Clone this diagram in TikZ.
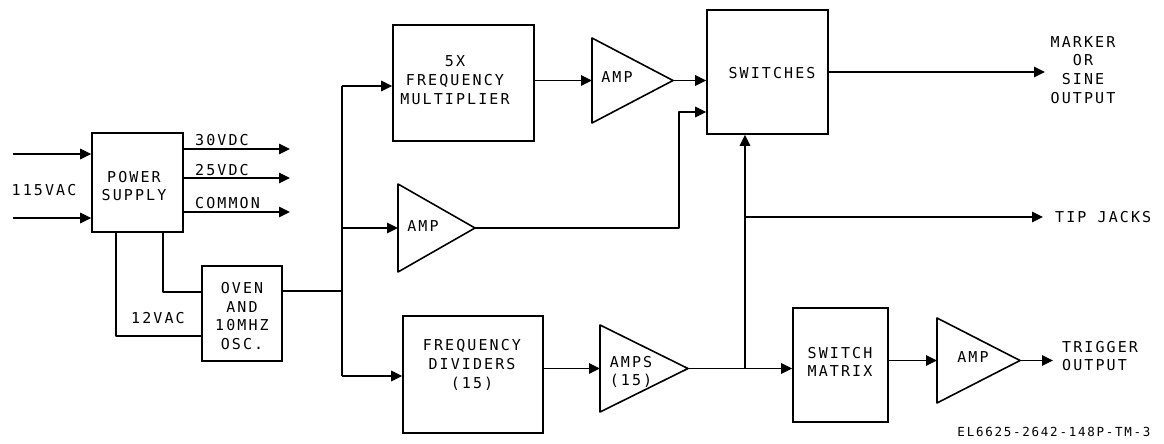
\documentclass[tikz,border=0pt]{standalone}
\usepackage{fontspec}
\newfontfamily\lr[LetterSpace=14]{DejaVu Sans Mono}
\usetikzlibrary{arrows.meta}
\begin{document}
\begin{tikzpicture}[x=1pt,y=-1pt,
  ln/.style={line width=1.6pt, line join=round},
  arr/.style={ln,-{Triangle[length=11pt,width=10.5pt]}},
  box/.style={draw,line width=1.6pt,inner sep=0pt},
  txt/.style={inner sep=0pt,align=center,font=\lr\fontsize{15}{18.8}\selectfont},
  small/.style={inner sep=0pt,font=\lr\fontsize{12.5}{15}\selectfont}]
\useasboundingbox (0,0) rectangle (1164,444);

% ---- boxes ----
\node[box,minimum width=91pt,minimum height=99pt] (ps) at (137.5,182.5) {};
\node[txt] (psT) at (134,186) {POWER\\SUPPLY};
\node[box,minimum width=80pt,minimum height=95pt] (oven) at (242,313.5) {};
\node[txt] (ovenT) at (242,316) {OVEN\\AND\\10MHZ\\OSC.};
\node[box,minimum width=141pt,minimum height=116pt] (mult) at (463.5,83) {};
\node[txt] (multT) at (455,80) {5X\\FREQUENCY\\MULTIPLIER};
\node[box,minimum width=121pt,minimum height=124pt] (sw) at (767.5,72) {};
\node[txt] (swT) at (772,73) {SWITCHES};
\node[box,minimum width=140pt,minimum height=117pt] (div) at (473,374.5) {};
\node[txt] (divT) at (472,365) {FREQUENCY\\DIVIDERS\\(15)};
\node[box,minimum width=95pt,minimum height=114pt] (sm) at (840.5,365) {};
\node[txt] (smT) at (840,362) {SWITCH\\MATRIX};

% ---- amplifiers ----
\coordinate (a1w) at (592,80.5); \coordinate (a1e) at (673,80.5);
\draw[ln] (592,38) -- (a1e) -- (592,123) -- cycle;
\node[txt] (a1T) at (617,77) {AMP};
\coordinate (a2w) at (398,228); \coordinate (a2e) at (475,228);
\draw[ln] (398,184) -- (a2e) -- (398,272) -- cycle;
\node[txt] (a2T) at (423,226) {AMP};
\coordinate (a3w) at (600,368.5); \coordinate (a3e) at (688,368.5);
\draw[ln] (600,325) -- (a3e) -- (600,412) -- cycle;
\node[txt] (a3T) at (631,372) {AMPS\\(15)};
\coordinate (a4w) at (937,360.5); \coordinate (a4e) at (1020,360.5);
\draw[ln] (937,318) -- (a4e) -- (937,403) -- cycle;
\node[txt] (a4T) at (973,357) {AMP};

% ---- power supply ----
\coordinate (in1) at (13,154); \coordinate (in2) at (13,218);
\draw[arr] (in1) -- (in1 -| ps.west);
\draw[arr] (in2) -- (in2 -| ps.west);
\node[txt] (vac) at (44,190) {115VAC};
\coordinate (o30) at (290,149); \coordinate (o25) at (290,178); \coordinate (ocom) at (290,212);
\draw[arr] (o30 -| ps.east) -- (o30);
\draw[arr] (o25 -| ps.east) -- (o25);
\draw[arr] (ocom -| ps.east) -- (ocom);
\node[txt,anchor=west] (l30) at (195,140.5) {30VDC};
\node[txt,anchor=west] (l25) at (195,170) {25VDC};
\node[txt,anchor=west] (lcom) at (195,203.5) {COMMON};
\coordinate (p1) at (163,292); \coordinate (p2) at (116,336);
\draw[ln] (p1 |- ps.south) -- (p1) -- (p1 -| oven.west);
\draw[ln] (p2 |- ps.south) -- (p2) -- (p2 -| oven.west);
\node[txt] (v12) at (158,318) {12VAC};

% ---- distribution bus ----
\coordinate (bo) at (342,291); \coordinate (bt) at (342,86); \coordinate (bb) at (342,376);
\draw[ln] (bo -| oven.east) -- (bo);
\draw[ln] (bt) -- (bb);
\draw[arr] (bt) -- (bt -| mult.west);
\draw[arr] (a2w -| bt) -- (a2w);
\draw[arr] (bb) -- (bb -| div.west);

% ---- signal path ----
\draw[arr] (a1w -| mult.east) -- (a1w);
\draw[arr] (a1e) -- (a1e -| sw.west);
\coordinate (k) at (679,112);
\draw[arr] (a2e) -- (a2e -| k) -- (k) -- (k -| sw.west);
\draw[arr] (a3w -| div.east) -- (a3w);
\coordinate (j) at (745,368.5);
\draw[ln] (a3e) -- (j);
\draw[arr] (j) -- (j -| sm.west);
\draw[arr] (j) -- (j |- sw.south);
\coordinate (tj) at (1043,217);
\draw[arr] (tj -| j) -- (tj);
\node[txt,anchor=west] (tjT) at (1055,217) {TIP JACKS};
\coordinate (mk) at (1045,72);
\draw[arr] (mk -| sw.east) -- (mk);
\node[txt] (mkT) at (1083,70) {MARKER\\OR\\SINE\\OUTPUT};
\draw[arr] (a4w -| sm.east) -- (a4w);
\coordinate (tr) at (1053,360.5);
\draw[arr] (a4e) -- (tr);
\node[txt,anchor=west,align=left] (trT) at (1062,356) {TRIGGER\\OUTPUT};
\node[small] (foot) at (1054,432) {EL6625-2642-148P-TM-3};
\end{tikzpicture}
\end{document}
